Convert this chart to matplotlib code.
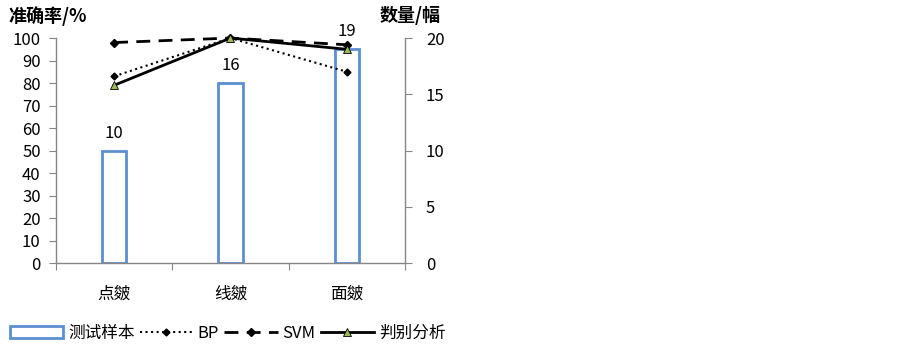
import numpy as np
import matplotlib.pyplot as plt

plt.rcParams['font.family'] = ['Noto Sans CJK SC', 'DejaVu Sans']

# data
categories = ['点皴', '线皴', '面皴']
sample_counts = [10, 16, 19]
bp_acc = [83, 100, 85]
svm_acc = [98, 100, 97]
da_acc = [79, 100, 95]

x = np.arange(len(categories))
gray = '#868686'

fig = plt.figure(figsize=(9.03, 3.49), dpi=100)
ax = fig.add_axes([0.062, 0.2464, 0.3865, 0.6446])
ax2 = ax.twinx()

# bars on the right axis
bars = ax2.bar(x, sample_counts, width=0.21, facecolor='white',
               edgecolor='#5B8FD0', linewidth=2, label='测试样本', zorder=1)
for xi, v in zip(x, sample_counts):
    ax2.text(xi, v + 0.8, str(v), ha='center', va='bottom', fontsize=12)

# lines on the left axis, drawn above the bars
ax.set_zorder(ax2.get_zorder() + 1)
ax.patch.set_visible(False)
l1, = ax.plot(x, bp_acc, color='black', linestyle=':', linewidth=1.5,
              marker='D', markersize=3.5, label='BP', clip_on=False)
l2, = ax.plot(x, svm_acc, color='black', linestyle=(0, (5, 3)), linewidth=2,
              marker='D', markersize=4.5, label='SVM', clip_on=False)
l3, = ax.plot(x, da_acc, color='black', linestyle='-', linewidth=2,
              marker='^', markersize=6, markerfacecolor='#9BBB59',
              markeredgecolor='black', markeredgewidth=0.6, label='判别分析', clip_on=False)

ax.set_xlim(-0.5, 2.5)
ax.set_ylim(0, 100)
ax.set_yticks(np.arange(0, 101, 10))
ax2.set_ylim(0, 20)
ax2.set_yticks([0, 5, 10, 15, 20])

ax.set_xticks([-0.5, 0.5, 1.5, 2.5])
ax.set_xticklabels([])
ax.set_xticks(x, minor=True)
ax.set_xticklabels(categories, minor=True, fontsize=12)
ax.tick_params(axis='x', which='minor', length=0, pad=16)
ax.tick_params(axis='x', which='major', length=5, color=gray, direction='out')
ax.tick_params(axis='y', labelsize=12, length=5, color=gray, pad=6)
ax2.tick_params(axis='y', labelsize=12, length=5, color=gray, pad=10)

for a in (ax, ax2):
    a.spines['top'].set_visible(False)
    for s in ('left', 'right', 'bottom'):
        a.spines[s].set_color(gray)
        a.spines[s].set_linewidth(1)
ax.spines['right'].set_visible(False)
ax2.spines['left'].set_visible(False)
ax2.spines['bottom'].set_visible(False)

fig.text(0.009, 0.955, '准确率/%', fontsize=13, fontweight='bold', va='center')
fig.text(0.42, 0.955, '数量/幅', fontsize=13, fontweight='bold', va='center')

fig.legend([bars, l1, l2, l3], ['测试样本', 'BP', 'SVM', '判别分析'],
           loc='center', bbox_to_anchor=(0.252, 0.045), ncol=4, frameon=False,
           fontsize=12, handlelength=3.2, handletextpad=0.3, columnspacing=0.3)

plt.savefig('out.png', dpi=100)
